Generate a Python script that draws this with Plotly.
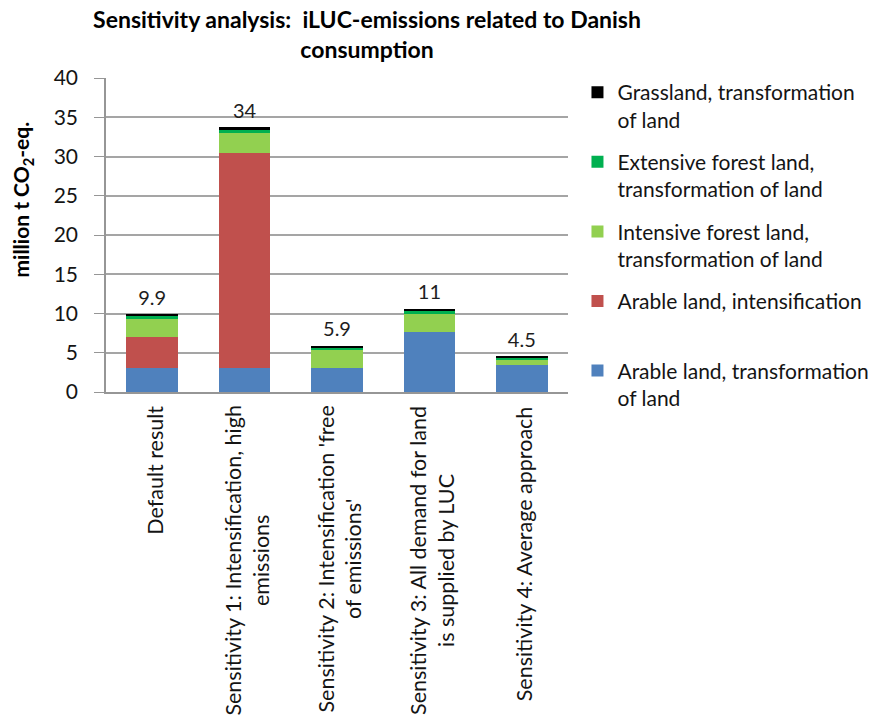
'''
Sensitivity analysis of iLUC-emissions related to Danish consumption

'''

import plotly.graph_objs as go


# Data (million t CO2-eq.)

scenarios = [
    'Default result',
    'Sensitivity 1: Intensification, high<br>emissions',
    "Sensitivity 2: Intensification 'free<br>of emissions'",
    'Sensitivity 3: All demand for land<br>is supplied by LUC',
    'Sensitivity 4: Average approach',
]

arable_transformation = [3.1, 3.1, 3.1, 7.6, 3.45]
arable_intensification = [3.9, 27.4, 0.0, 0.0, 0.0]
intensive_forest = [2.35, 2.5, 2.2, 2.3, 0.65]
extensive_forest = [0.35, 0.45, 0.4, 0.5, 0.25]
grassland = [0.2, 0.25, 0.2, 0.2, 0.15]
total_labels = ['9.9', '34', '5.9', '11', '4.5']

FONT = 'Lato, Open Sans, sans-serif'
AXIS_GREY = 'rgb(150, 150, 150)'


def stacked_bar(y, name, color, rank):
    trace = go.Bar(
        x=scenarios,
        y=y,
        name=name,
        legendgroup=name,
        legendrank=rank,
        marker=dict(color=color, line=dict(width=0)),
        hoverinfo='y+name',
    )
    return trace


# legendrank puts the top segment first in the legend, as in the original
traces = [
    stacked_bar(arable_transformation, 'Arable land, transformation<br>of land', 'rgb(79, 129, 189)', 5),
    stacked_bar(arable_intensification, 'Arable land, intensification<br> ', 'rgb(192, 80, 77)', 4),
    stacked_bar(intensive_forest, 'Intensive forest land,<br>transformation of land', 'rgb(146, 208, 80)', 3),
    stacked_bar(extensive_forest, 'Extensive forest land,<br>transformation of land', 'rgb(0, 176, 80)', 2),
    stacked_bar(grassland, 'Grassland, transformation<br>of land', 'rgb(0, 0, 0)', 1),
]

totals = [a + b + c + d + e for a, b, c, d, e in zip(arable_transformation, arable_intensification,
                                                     intensive_forest, extensive_forest, grassland)]

# total labels above the stacks (invisible marker just pushes the text up a bit)
traces.append(go.Scatter(
    x=scenarios,
    y=totals,
    mode='markers+text',
    marker=dict(size=6, color='rgba(0,0,0,0)'),
    text=total_labels,
    textposition='top center',
    textfont=dict(size=20, color='rgb(30, 30, 30)'),
    showlegend=False,
    hoverinfo='skip',
))

fig = go.Figure(data=traces)

# category labels, rotated, lines centred like the original
for s in scenarios:
    fig.add_annotation(
        x=s, xref='x',
        y=0, yref='paper',
        yanchor='top', yshift=-12, xshift=2,
        text=s, textangle=-90, align='center',
        showarrow=False,
        font=dict(size=21.5, color='rgb(20, 20, 20)'),
    )

# y axis title
fig.add_annotation(
    x=0, xref='paper', xshift=-84,
    y=0.613, yref='paper',
    xanchor='center', yanchor='middle',
    text='<b>million t CO<sub>2</sub>-eq.</b>', textangle=-90,
    showarrow=False,
    font=dict(size=21, color='rgb(0, 0, 0)'),
)

fig.update_layout(
    width=878,
    height=710,
    barmode='stack',
    bargap=0.44,
    plot_bgcolor='white',
    paper_bgcolor='white',
    font=dict(family=FONT, size=16, color='rgb(20, 20, 20)'),
    margin=dict(l=98, r=318, t=70, b=326),
    title=dict(
        text='<b>Sensitivity analysis:  iLUC-emissions related to Danish<br>consumption</b>',
        x=0.4089,
        xanchor='center',
        y=0.972,
        yanchor='top',
        font=dict(size=23, color='rgb(0, 0, 0)'),
    ),
    legend=dict(
        traceorder='grouped',
        x=1.0205,
        xanchor='left',
        y=1.019,
        yanchor='top',
        valign='top',
        font=dict(size=21),
        tracegroupgap=12,
    ),
)

fig.update_xaxes(
    showgrid=False,
    zeroline=False,
    showline=True,
    linecolor=AXIS_GREY,
    linewidth=1.5,
    showticklabels=False,
    ticks='',
)

fig.update_yaxes(
    range=[0, 40],
    dtick=5,
    showgrid=True,
    gridcolor='rgb(165, 165, 165)',
    gridwidth=1.5,
    zeroline=False,
    showline=True,
    linecolor=AXIS_GREY,
    linewidth=1.5,
    ticks='outside',
    ticklen=10,
    tickcolor=AXIS_GREY,
    ticklabelstandoff=12,
    tickfont=dict(size=21),
)

fig.write_html('out.html')
